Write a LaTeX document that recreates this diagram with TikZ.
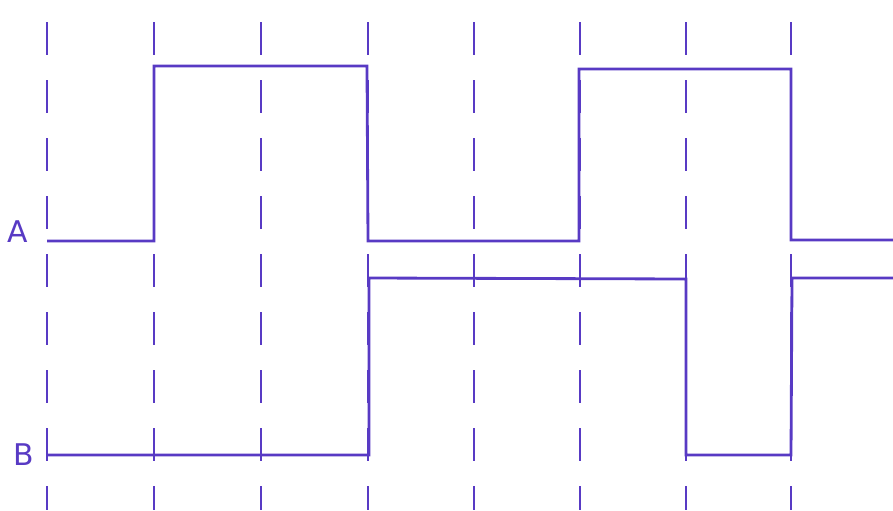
\documentclass[tikz,border=0pt]{standalone}
\usepackage{fontspec}
\setmainfont{DejaVu Sans}
\usepackage{tikz}
\usetikzlibrary{positioning}

\definecolor{ink}{RGB}{88,58,196}

\tikzset{
  grid line/.style={draw=ink, line width=1.1pt, dash pattern=on 19pt off 14pt, dash phase=-8pt},
  wave/.style={draw=ink, line width=1.6pt, line join=miter},
  sig label/.style={text=ink, font=\fontsize{17}{17}\selectfont}
}

\begin{document}
\begin{tikzpicture}[x=0.2mm, y=-0.2mm]
\useasboundingbox (0,0) rectangle (893,510);

% clock grid
\foreach \x in {47,154,261,368,474,580,686,791}
  \draw[grid line] (\x,8) -- (\x,510);

\node[sig label] at (18,232) (labelA) {A} ;
\node[sig label] at (24,455) (labelB) {B} ;

% signal A
\draw[wave] (47,241) -- (154,241) -- (154,66) -- (367,66) -- (368,241)
  -- (579,241) -- (579,69) -- (791,69) -- (791,240) -- (893,240) ;

% signal B
\draw[wave] (47,455) -- (369,455) -- (369,278) -- (686,279) -- (686,455)
  -- (791,455) -- (792,278) -- (893,278) ;
\end{tikzpicture}
\end{document}
